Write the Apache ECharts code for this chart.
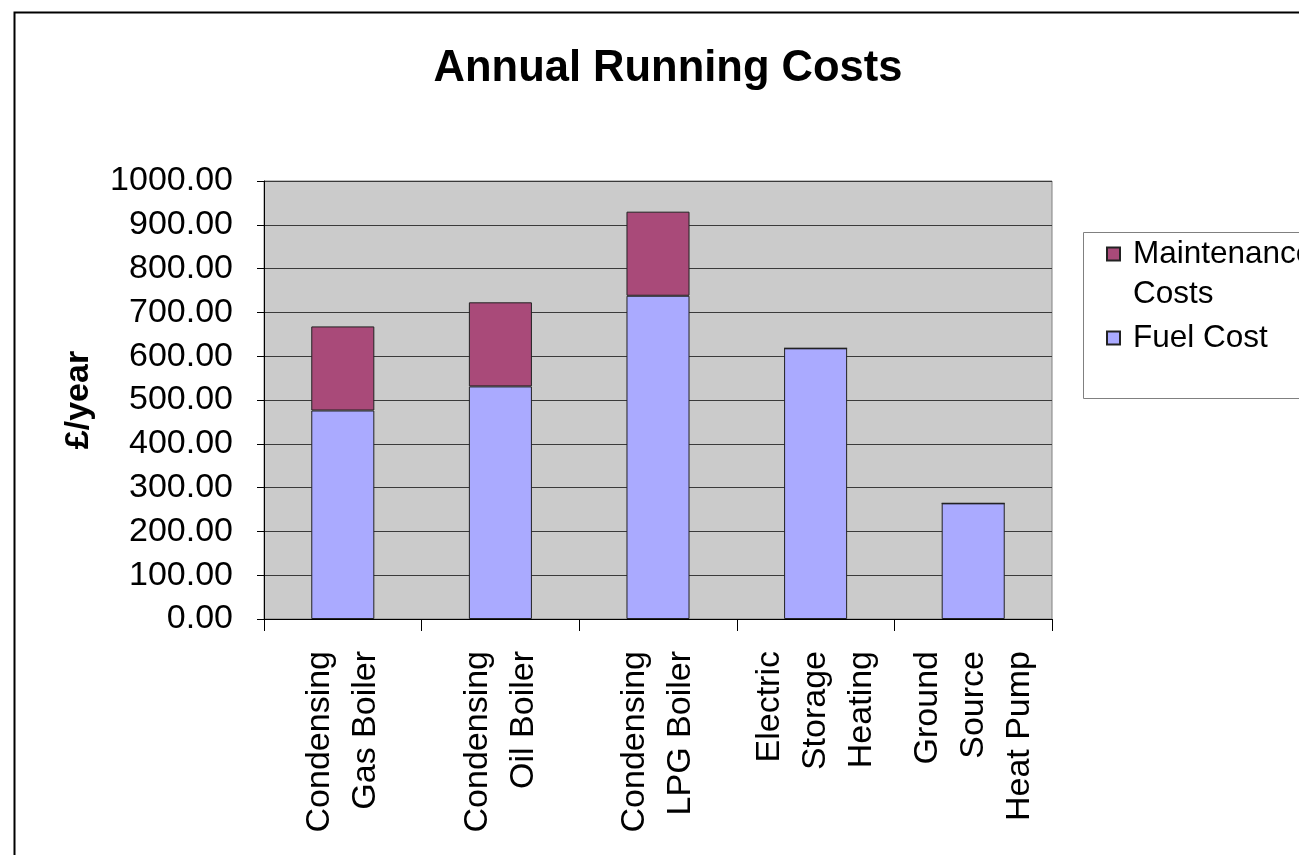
<!DOCTYPE html>
<html>
<head>
<meta charset="utf-8">
<title>Annual Running Costs</title>
<script src="https://cdn.jsdelivr.net/npm/echarts@6/dist/echarts.min.js"></script>
<style>
  html, body { margin: 0; padding: 0; background: #fff; }
  #chart { width: 1299px; height: 855px; }
</style>
</head>
<body>
<div id="chart"></div>
<script>
// data
const categories = [
  'Condensing\nGas Boiler',
  'Condensing\nOil Boiler',
  'Condensing\nLPG Boiler',
  'Electric\nStorage\nHeating',
  'Ground\nSource\nHeat Pump'
]
const fuelCost = [476, 531, 738, 618, 264]
const maintenanceCost = [192, 192, 192, 0, 0]

const FONT = "'Liberation Sans', Arial, sans-serif"

const chart = echarts.init(document.getElementById('chart'))

chart.setOption({
  animation: false,
  textStyle: { fontFamily: FONT },
  title: {
    text: 'Annual Running Costs',
    left: 663,
    top: 42,
    textAlign: 'center',
    textStyle: { fontSize: 43.5, fontWeight: 'bold', color: '#000', fontFamily: FONT }
  },
  // outer chart frame + legend box
  graphic: [
    {
      type: 'rect',
      shape: { x: 14.5, y: 12.5, width: 1400, height: 1000 },
      style: { fill: 'none', stroke: '#000', lineWidth: 2 },
      silent: true
    },
    {
      type: 'rect',
      shape: { x: 1083.5, y: 232.5, width: 300, height: 166 },
      style: { fill: '#fff', stroke: '#808080', lineWidth: 1 },
      silent: true,
      z: -1
    }
  ],
  legend: {
    orient: 'vertical',
    left: 1106,
    top: 194,
    padding: 0,
    itemWidth: 13,
    itemHeight: 13,
    itemGap: 4,
    icon: 'rect',
    data: ['Maintenance Costs', 'Fuel Cost'],
    // blank first line keeps the icon level with "Maintenance"
    formatter: (name) => name === 'Maintenance Costs' ? ' \nMaintenance\nCosts' : name,
    textStyle: {
      fontSize: 31.5,
      color: '#000',
      fontFamily: FONT,
      lineHeight: 40,
      padding: [0, 0, 0, 8]
    }
  },
  grid: {
    left: 264,
    right: 247,
    top: 181,
    bottom: 236,
    show: true,
    backgroundColor: '#cbcbcb',
    borderColor: '#808080',
    borderWidth: 1
  },
  xAxis: {
    type: 'category',
    data: categories,
    axisLine: { lineStyle: { color: '#000', width: 1 } },
    axisTick: { show: true, length: 12, lineStyle: { color: '#000' } },
    axisLabel: {
      rotate: 90,
      interval: 0,
      margin: 32,
      fontSize: 34,
      lineHeight: 46,
      color: '#000',
      fontFamily: FONT
    }
  },
  yAxis: {
    type: 'value',
    min: 0,
    max: 1000,
    interval: 100,
    name: '£/year',
    nameLocation: 'middle',
    nameGap: 168,
    nameTextStyle: { fontSize: 34, fontWeight: 'bold', color: '#000', fontFamily: FONT },
    axisLine: { show: true, lineStyle: { color: '#000', width: 1 } },
    axisTick: { show: true, length: 7, lineStyle: { color: '#000' } },
    axisLabel: {
      margin: 31,
      fontSize: 34,
      color: '#000',
      fontFamily: FONT,
      formatter: (v) => v.toFixed(2)
    },
    splitLine: { show: true, lineStyle: { color: '#3a3a3a', width: 1 } }
  },
  series: [
    {
      name: 'Fuel Cost',
      type: 'bar',
      stack: 'cost',
      barCategoryGap: '60%',
      data: fuelCost,
      itemStyle: { color: '#aaaaff', borderColor: '#222', borderWidth: 1 }
    },
    {
      name: 'Maintenance Costs',
      type: 'bar',
      stack: 'cost',
      barCategoryGap: '60%',
      data: maintenanceCost,
      itemStyle: { color: '#a94a79', borderColor: '#222', borderWidth: 1 }
    }
  ]
})

window.addEventListener('resize', () => chart.resize())
</script>
</body>
</html>
